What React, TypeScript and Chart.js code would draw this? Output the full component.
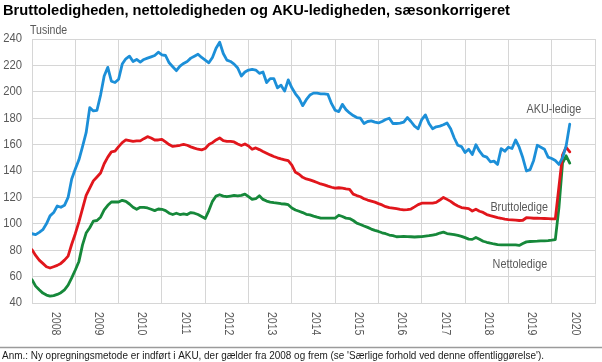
import React, { useEffect, useRef } from "react";
import { Chart, registerables } from "chart.js";

Chart.register(...registerables);

const TITLE = "Bruttoledigheden, nettoledigheden og AKU-ledigheden, sæsonkorrigeret";
const UNIT = "Tusinde";
const NOTE =
  "Anm.: Ny opregningsmetode er indført i AKU, der gælder fra 2008 og frem (se 'Særlige forhold ved denne offentliggørelse').";

const YEARS = ["2008", "2009", "2010", "2011", "2012", "2013", "2014", "2015", "2016", "2017", "2018", "2019", "2020"];
const Y_TICKS = [40, 60, 80, 100, 120, 140, 160, 180, 200, 220, 240];
const SERIES_NAMES = ["AKU-ledige", "Bruttoledige", "Nettoledige"];

// Monthly values (thousands), Jan 2008 onwards
const AKU = [
  92.5, 91.8, 93.5, 95.5, 100, 106, 108.5, 113.5, 112.5, 114,
  120, 134, 141.5, 148.5, 158.5, 169, 188, 185.5, 186, 197.5,
  212, 218.5, 208, 207, 209.5, 221, 225, 227, 223, 224.5,
  222.5, 224.5, 225.5, 226.5, 227.5, 230, 228, 227.5, 222, 219,
  216, 219.5, 221.5, 223, 225.5, 227, 228.5, 226, 224, 222,
  226, 233, 237.5, 229, 224, 223, 221, 218, 212, 215,
  216.5, 217, 216.5, 214, 215, 207, 210, 210, 203, 205,
  200.5, 209, 203, 198.5, 195, 189.5, 194, 197.5, 199, 199,
  198.5, 198.5, 198, 191, 186, 185, 190.5, 186.5, 184, 182,
  180.5, 180, 176, 177.5, 178, 177, 176.4, 177.5, 179, 180,
  176, 176, 176.2, 177, 180.5, 177.5, 174, 172, 179, 182.5,
  176, 172, 173.5, 174, 175, 176.4, 172, 165, 159.5, 158.5,
  154, 156.5, 152.5, 159.9, 155, 151.5, 150.5, 147, 147.5, 145,
  157, 155, 158, 157, 163.5, 158, 150, 140, 141, 148,
  159.5, 158, 156.5, 150.5, 149.5, 148, 145, 150, 159, 175.5,
];

const BRUTTO = [
  80.4, 76, 72.5, 70, 67.5, 66.5, 67.5, 68.5, 70, 72.5,
  75.5, 84.5, 92.5, 101.5, 111.5, 121.5, 127, 132.5, 135.5, 138.5,
  145.5, 150.5, 154.5, 155, 158.5, 161.5, 163.5, 163, 162.5, 162.8,
  162.8, 164.5, 166, 165, 163.5, 163.5, 164, 162, 160, 158.6,
  159, 159.5, 160.2, 159.5, 158.3, 157.3, 156.5, 156, 157, 160,
  161.5, 163.5, 165, 163, 162.5, 162.5, 162, 160.5, 159.3, 160.5,
  159, 156.5, 157.5, 156.2, 154.8, 153.5, 152.2, 151, 150, 149.2,
  148.5, 147.8, 144.5, 139, 137.5, 135.2, 134, 133.3, 132.3, 131.3,
  130.2, 129.5, 128.5, 127.7, 127, 127.3, 127, 126.4, 126, 122.5,
  121.4, 120.5, 119, 118, 117.2, 116.4, 115.3, 114.3, 113, 112.2,
  111.9, 111.5, 111, 110.6, 110.7, 111.2, 112.8, 114.5, 115.6, 115.7,
  115.7, 115.7, 116.2, 118, 120, 118.5, 117, 115, 113.5, 112.3,
  111.9, 111.5, 109.7, 111, 109.5, 108.6, 107, 106.2, 105.5, 104.7,
  104.2, 103.5, 103.2, 103, 102.8, 102.5, 102.7, 104.6, 104.5, 104.2,
  104.2, 104.1, 104, 103.9, 103.8, 103.8, 128, 152, 158, 154.5,
];

const NETTO = [
  57.6, 52.8, 50, 47.5, 46, 45.2, 45.6, 46.5, 47.8, 50,
  53.5, 59, 65, 71.5, 84, 93, 97, 102, 102.5, 105,
  110.5, 114, 116.5, 116.5, 116.5, 117.8, 117, 115, 112.5, 111,
  112.5, 112.5, 112, 111, 110, 111.2, 111, 110, 108, 107,
  108, 107, 107.5, 107, 108.5, 108, 107, 105.5, 104, 110,
  117, 121, 122, 121, 120.5, 121, 121.5, 121.2, 121.5, 122.5,
  120.5, 118.5, 119, 121.2, 118.5, 117.2, 116.5, 116, 115.7, 115.2,
  115, 114.5, 112, 110.5, 109.5, 108.5, 107.2, 106.8, 105.8, 105,
  104.3, 104.3, 104.3, 104.3, 104.3, 106.5, 105.5, 104.3, 104, 102.5,
  100.5, 99.5, 98.3, 97.3, 96, 95, 94.2, 93.2, 92.5, 91.5,
  91, 90.2, 90.3, 90.4, 90.3, 90.2, 90, 90.2, 90.3, 90.7,
  91, 91.5, 92, 93, 93.7, 92.6, 92.2, 91.8, 91.2, 90.5,
  89.5, 88.4, 88.2, 89.6, 88.3, 86.8, 86, 85.3, 84.7, 84.2,
  84.1, 84.1, 84.1, 84.1, 84, 83.6, 85, 86.3, 86.6, 86.7,
  86.8, 87, 87.1, 87.3, 87.6, 88, 112, 146, 151.5, 146,
];

const FONT = '"Liberation Sans", Arial, Helvetica, sans-serif';
const GRID = "#d6d6d6";
const LABEL_GREY = "#595959";
const COLORS = ["#1C8FD8", "#E1161C", "#16883A"];

function drawText(ctx: CanvasRenderingContext2D, text: string, x: number, y: number, o: any) {
  ctx.save();
  ctx.font = o.font;
  ctx.fillStyle = o.color;
  ctx.textAlign = o.align || "left";
  ctx.textBaseline = o.baseline || "alphabetic";
  let s = o.sx || 1;
  if (o.width) s = o.width / ctx.measureText(text).width;
  ctx.translate(x, y);
  if (o.rotate) ctx.rotate(o.rotate);
  ctx.scale(s, 1);
  ctx.fillText(text, 0, 0);
  ctx.restore();
}

const textPlugin = {
  id: "textPlugin",
  afterDraw(chart: any) {
    const ctx: CanvasRenderingContext2D = chart.ctx;
    const xs = chart.scales.x;
    const ys = chart.scales.y;

    drawText(ctx, TITLE, 3, 15, { font: `bold 14px ${FONT}`, color: "#000", width: 507 });
    drawText(ctx, UNIT, 30, 31, { font: `12px ${FONT}`, color: LABEL_GREY, baseline: "middle", sx: 0.88 });

    Y_TICKS.forEach((v) => {
      drawText(ctx, String(v), 22, ys.getPixelForValue(v), {
        font: `12.5px ${FONT}`, color: LABEL_GREY, align: "right", baseline: "middle", sx: 0.9,
      });
    });

    YEARS.forEach((yr, k) => {
      const cx = xs.getPixelForValue(12 * k + 6) + 1.5;
      drawText(ctx, yr, cx, 312, {
        font: `12px ${FONT}`, color: LABEL_GREY, baseline: "middle", rotate: Math.PI / 2, sx: 0.88,
      });
    });

    const lblPos = [
      [144.6, 186.4],
      [135, 112.2],
      [135.2, 69],
    ];
    SERIES_NAMES.forEach((n, i) => {
      drawText(ctx, n, xs.getPixelForValue(lblPos[i][0]), ys.getPixelForValue(lblPos[i][1]), {
        font: `12px ${FONT}`, color: LABEL_GREY, align: "center", baseline: "middle", sx: 0.9,
      });
    });

    ctx.save();
    ctx.strokeStyle = "#9b9b9b";
    ctx.lineWidth = 1.5;
    ctx.beginPath();
    ctx.moveTo(0, 347.5);
    ctx.lineTo(602, 347.5);
    ctx.stroke();
    ctx.restore();

    drawText(ctx, NOTE, 2, 358.5, { font: `10px ${FONT}`, color: "#1a1a1a", width: 542 });
  },
};

export default function App() {
  const ref = useRef<HTMLCanvasElement | null>(null);

  useEffect(() => {
    document.body.style.margin = "0";
    const canvas = ref.current;
    if (!canvas) return;
    const mk = (arr: number[]) => arr.map((v, i) => ({ x: i, y: v }));
    const chart = new Chart(canvas, {
      type: "line",
      data: {
        datasets: [AKU, BRUTTO, NETTO].map((arr, i) => ({
          label: SERIES_NAMES[i],
          data: mk(arr),
          borderColor: COLORS[i],
          backgroundColor: COLORS[i],
          borderWidth: 2.8,
          pointRadius: 0,
          tension: 0,
          borderJoinStyle: "round" as const,
          borderCapStyle: "round" as const,
          fill: false,
        })),
      },
      options: {
        responsive: false,
        animation: false,
        devicePixelRatio: 1,
        layout: { padding: { top: 39, right: 7, bottom: 59, left: 0 } },
        plugins: {
          legend: { display: false },
          tooltip: { enabled: false },
          title: { display: false },
        },
        scales: {
          x: {
            type: "linear",
            min: 0,
            max: 156,
            ticks: { display: false, stepSize: 12 },
            grid: { color: GRID, lineWidth: 1, drawTicks: false },
            border: { display: true, color: GRID },
            afterFit: (s: any) => {
              s.height = 0;
            },
          },
          y: {
            min: 40,
            max: 240,
            ticks: { display: false, stepSize: 20 },
            grid: { color: GRID, lineWidth: 1, drawTicks: false },
            border: { display: true, color: GRID },
            afterFit: (s: any) => {
              s.width = 32;
            },
          },
        },
      },
      plugins: [textPlugin],
    } as any);
    return () => chart.destroy();
  }, []);

  return (
    <div style={{ position: "absolute", left: 0, top: 0, width: 602, height: 362, background: "#fff" }}>
      <canvas ref={ref} width={602} height={362} style={{ display: "block" }} />
    </div>
  );
}
